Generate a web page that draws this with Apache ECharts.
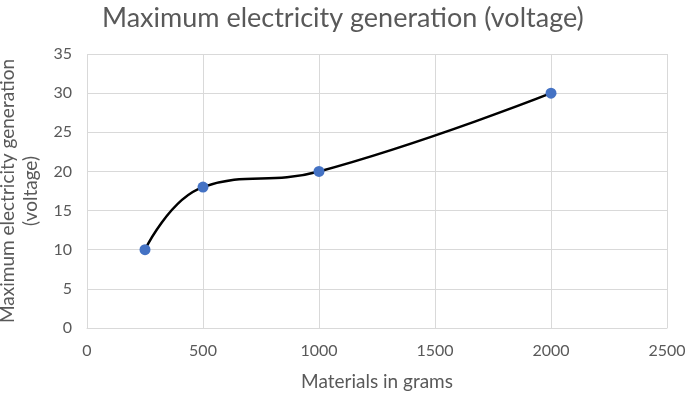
<!DOCTYPE html>
<html><head><meta charset="utf-8">
<script src="https://cdn.jsdelivr.net/npm/echarts@6/dist/echarts.min.js"></script>
<style>html,body{margin:0;padding:0;background:#fff}#c{width:685px;height:393px}</style>
</head><body><div id="c"></div>
<script>
const grams = [250, 500, 1000, 2000];
const voltage = [10, 18, 20, 30];
const titleText = 'Maximum electricity generation (voltage)';
const xTitle = 'Materials in grams';
const yTitle = 'Maximum electricity generation\n(voltage)';

const chart = echarts.init(document.getElementById('c'));
const font = 'Lato';
chart.setOption({
  animation: false,
  title: {text: titleText, left: 97, top: 0,
    textStyle: {fontFamily: font, fontSize: 27, fontWeight: 'normal', color: '#595959'}},
  grid: {left: 87, right: 18, top: 54, bottom: 65, outerBoundsMode: 'none', containLabel: false},
  xAxis: {type: 'value', min: 0, max: 2500, interval: 500,
    name: xTitle, nameLocation: 'middle', nameGap: 44,
    nameTextStyle: {fontFamily: font, fontSize: 19, color: '#595959'},
    axisLine: {show: true, lineStyle: {color: '#d9d9d9'}}, axisTick: {show: false},
    axisLabel: {fontFamily: font, fontSize: 16, color: '#595959', margin: 15,
      formatter: v => String(v)},
    splitLine: {show: true, lineStyle: {color: '#d9d9d9', width: 1}}},
  yAxis: {type: 'value', min: 0, max: 35, interval: 5,
    name: yTitle, nameLocation: 'middle', nameGap: 38, nameRotate: 90,
    nameTextStyle: {fontFamily: font, fontSize: 19, color: '#595959', lineHeight: 23},
    axisLine: {show: false}, axisTick: {show: false},
    axisLabel: {fontFamily: font, fontSize: 16, color: '#595959', margin: 15},
    splitLine: {show: true, lineStyle: {color: '#d9d9d9', width: 1}}},
  series: [{type: 'line', data: grams.map((g, i) => [g, voltage[i]]),
    smooth: 0.45, symbol: 'circle', symbolSize: 11,
    lineStyle: {color: '#000', width: 2.5},
    itemStyle: {color: '#4472C4'}}]
});
</script></body></html>
